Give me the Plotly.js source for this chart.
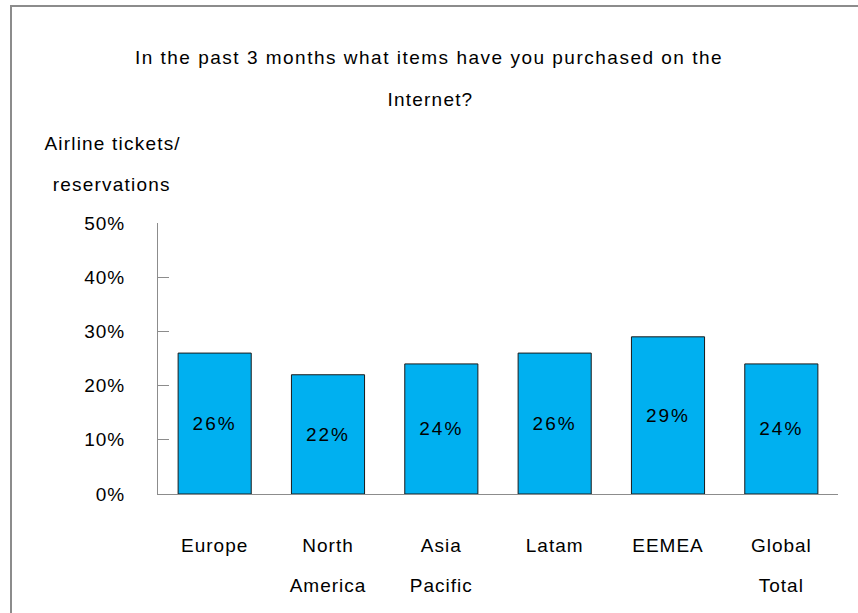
<!DOCTYPE html>
<html>
<head>
<meta charset="utf-8">
<script src="https://cdn.plot.ly/plotly-3.0.1.min.js"></script>
<style>
  html, body { margin: 0; padding: 0; background: #fff; overflow: hidden; }
  #wrap { position: relative; width: 858px; height: 613px; }
  #chart { width: 858px; height: 613px; }
  #frame { position: absolute; left: 10px; top: 5px; width: 900px; height: 700px;
           border-top: 2px solid #8c8c8c; border-left: 2px solid #8c8c8c; pointer-events: none; }
  #chart text { letter-spacing: 1px; }
  #chart .gtitle { letter-spacing: 1.5px; }
  #chart .annotation-text { letter-spacing: 1.2px; }
  #chart .bartext { letter-spacing: 2px; }
</style>
</head>
<body>
<div id="wrap">
  <div id="chart"></div>
  <div id="frame"></div>
</div>
<script>
// ---- data ----
const categories = ["Europe", "North America", "Asia Pacific", "Latam", "EEMEA", "Global Total"];
const values = [26, 22, 24, 26, 29, 24];
const labelLine1 = ["Europe", "North", "Asia", "Latam", "EEMEA", "Global"];
const labelLine2 = ["", "America", "Pacific", "", "", "Total"];
const yTickVals = [0, 10, 20, 30, 40, 50];
const yTickText = ["0%", "10%", "20%", "30%", "40%", "50%"];
const titleLine1 = "In the past 3 months what items have you purchased on the";
const titleLine2 = "Internet?";
const yTitleLine1 = "Airline tickets/";
const yTitleLine2 = "reservations";

const FONT = "Liberation Sans, Arial, sans-serif";
const FS = 19;

const traces = [
  {
    type: "bar",
    x: categories,
    y: values,
    text: values.map(v => v + "%"),
    textposition: "inside",
    insidetextanchor: "middle",
    textangle: 0,
    textfont: { family: FONT, size: FS, color: "#000" },
    marker: { color: "#00B0F0", line: { color: "#1a1a1a", width: 1 } },
    hoverinfo: "skip",
    showlegend: false
  },
  {
    type: "scatter",
    mode: "markers",
    x: categories,
    y: values,
    xaxis: "x2",
    marker: { opacity: 0, size: 1 },
    hoverinfo: "skip",
    showlegend: false
  }
];

const layout = {
  width: 858,
  height: 613,
  margin: { l: 158, r: 20, t: 223, b: 119 },
  paper_bgcolor: "#ffffff",
  plot_bgcolor: "rgba(0,0,0,0)",
  bargap: 0.355,
  font: { family: FONT, size: FS, color: "#000" },
  title: {
    text: titleLine1,
    font: { family: FONT, size: FS, color: "#000" },
    x: 0.5, xref: "container", xanchor: "center",
    y: 1 - 57 / 613, yref: "container", yanchor: "middle"
  },
  xaxis: {
    type: "category",
    categoryarray: categories,
    range: [-0.5, 5.5],
    tickmode: "array",
    tickvals: categories,
    ticktext: labelLine1,
    ticks: "",
    showline: true, linecolor: "#8c8c8c", linewidth: 1,
    showgrid: false, zeroline: false,
    ticklabelstandoff: 34,
    tickfont: { family: FONT, size: FS, color: "#000" },
    fixedrange: true
  },
  xaxis2: {
    type: "category",
    overlaying: "x",
    anchor: "y",
    side: "bottom",
    categoryarray: categories,
    range: [-0.5, 5.5],
    tickmode: "array",
    tickvals: categories,
    ticktext: labelLine2,
    ticks: "",
    showline: false, showgrid: false, zeroline: false,
    ticklabelstandoff: 78,
    tickfont: { family: FONT, size: FS, color: "#000" },
    fixedrange: true
  },
  yaxis: {
    range: [0, 50],
    tickmode: "array",
    tickvals: yTickVals,
    ticktext: yTickText,
    ticks: "inside",
    ticklen: 11,
    tickcolor: "#8c8c8c",
    showline: true, linecolor: "#8c8c8c", linewidth: 1,
    showgrid: false, zeroline: false,
    ticklabelstandoff: 28,
    tickfont: { family: FONT, size: FS, color: "#000" },
    fixedrange: true
  },
  annotations: [
    { text: titleLine2, xref: "paper", yref: "paper", x: (430 - 158) / 680, y: (494 - 99) / 271,
      xanchor: "center", yanchor: "middle", showarrow: false, font: { family: FONT, size: FS, color: "#000" } },
    { text: yTitleLine1, xref: "paper", yref: "paper", x: (113 - 158) / 680, y: (494 - 143) / 271,
      xanchor: "center", yanchor: "middle", showarrow: false, font: { family: FONT, size: FS, color: "#000" } },
    { text: yTitleLine2, xref: "paper", yref: "paper", x: (112 - 158) / 680, y: (494 - 184) / 271,
      xanchor: "center", yanchor: "middle", showarrow: false, font: { family: FONT, size: FS, color: "#000" } }
  ]
};

Plotly.newPlot("chart", traces, layout, { displayModeBar: false, staticPlot: true });
</script>
</body>
</html>
